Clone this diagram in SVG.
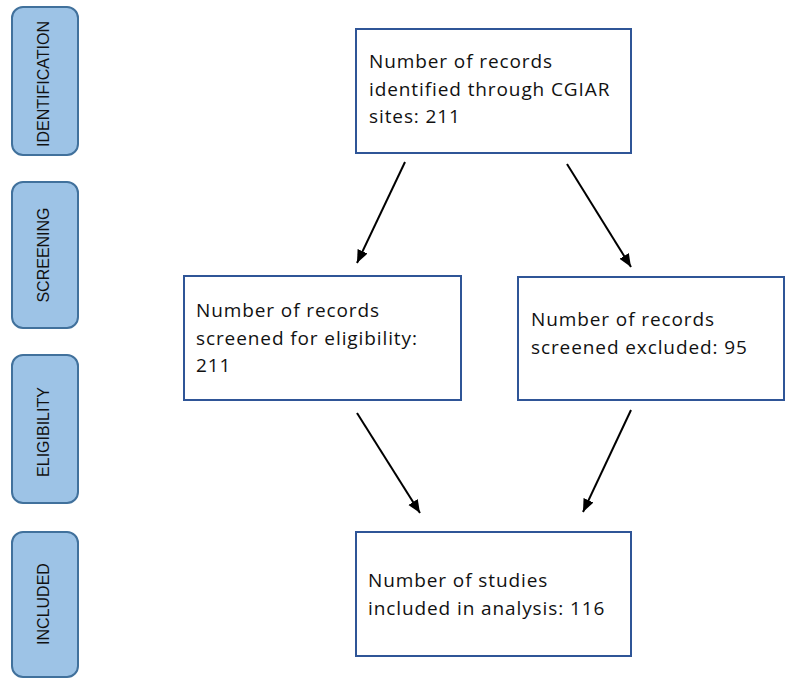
<svg xmlns="http://www.w3.org/2000/svg" width="786" height="678" viewBox="0 0 786 678">
<defs>
<style>
.stage{fill:#9DC3E6;stroke:#41719C;stroke-width:2}
.stage-t{font-family:"Liberation Sans",Arial,sans-serif;font-size:16px;fill:#111;text-anchor:middle}
.box{fill:#fff;stroke:#2F5597;stroke-width:2}
.box-t{font-family:"Open Sans","Noto Sans",sans-serif;font-size:19px;letter-spacing:0.9px;fill:#111}
.conn{stroke:#000;stroke-width:2;fill:none;marker-end:url(#ah)}
</style>
<marker id="ah" markerUnits="userSpaceOnUse" markerWidth="14" markerHeight="14" viewBox="0 0 14 14" refX="13" refY="7" orient="auto">
<path d="M0,1.5 L13,7 L0,12.5 Z" fill="#000"/>
</marker>
</defs>
<rect width="786" height="678" fill="#fff"/>
<g id="stage-identification">
<rect class="stage" x="12" y="7" width="66" height="148" rx="11"/>
<text class="stage-t" transform="translate(48.5,84) rotate(-90)">IDENTIFICATION</text>
</g>
<g id="stage-screening">
<rect class="stage" x="12" y="182" width="66" height="146" rx="11"/>
<text class="stage-t" transform="translate(48.5,255) rotate(-90)">SCREENING</text>
</g>
<g id="stage-eligibility">
<rect class="stage" x="12" y="355" width="66" height="148" rx="11"/>
<text class="stage-t" transform="translate(48.5,432) rotate(-90)">ELIGIBILITY</text>
</g>
<g id="stage-included">
<rect class="stage" x="12" y="532" width="66" height="145" rx="11"/>
<text class="stage-t" transform="translate(48.5,604) rotate(-90)">INCLUDED</text>
</g>
<g id="node-identified">
<rect class="box" x="356" y="29" width="275" height="124"/>
<text class="box-t" x="369" y="68">Number of records</text>
<text class="box-t" x="369" y="95.5">identified through CGIAR</text>
<text class="box-t" x="369" y="123">sites: 211</text>
</g>
<g id="node-screened">
<rect class="box" x="184" y="276" width="277" height="124"/>
<text class="box-t" x="196" y="317">Number of records</text>
<text class="box-t" x="196" y="345">screened for eligibility:</text>
<text class="box-t" x="196" y="372">211</text>
</g>
<g id="node-excluded">
<rect class="box" x="518" y="277" width="266" height="123"/>
<text class="box-t" x="531" y="326">Number of records</text>
<text class="box-t" x="531" y="354">screened excluded: 95</text>
</g>
<g id="node-included">
<rect class="box" x="356" y="532" width="275" height="124"/>
<text class="box-t" x="368" y="587">Number of studies</text>
<text class="box-t" x="368" y="615">included in analysis: 116</text>
</g>
<g id="connectors">
<line class="conn" x1="405" y1="162" x2="357" y2="263"/>
<line class="conn" x1="567" y1="164" x2="631" y2="267"/>
<line class="conn" x1="357" y1="413" x2="420" y2="513"/>
<line class="conn" x1="631" y1="410" x2="583" y2="512"/>
</g>
</svg>
